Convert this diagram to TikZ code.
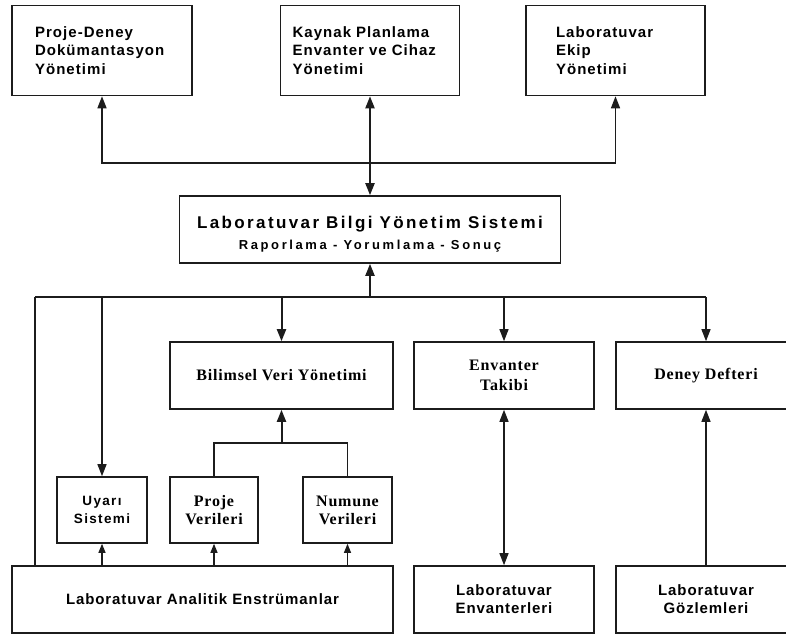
\documentclass[tikz,border=0pt]{standalone}
\usepackage{fontspec}
\usetikzlibrary{arrows.meta,calc}
\newfontfamily\boxsans[LetterSpace=7]{Liberation Sans}
\newfontfamily\titlesans[LetterSpace=14]{Liberation Sans}
\newfontfamily\subsans[LetterSpace=20]{Liberation Sans}
\newfontfamily\lowsans[LetterSpace=6]{Liberation Sans}
\newfontfamily\smallsans[LetterSpace=10]{Liberation Sans}
\newfontfamily\boxserif[LetterSpace=5]{Liberation Serif}
\definecolor{ink}{HTML}{1C1C1C}

\tikzset{
  box/.style={draw=ink, line width=1.6pt, fill=white, inner sep=0pt, text=black},
  topbox/.style={box, minimum height=90pt, inner ysep=0pt, align=left,
    font=\boxsans\bfseries\fontsize{15}{18.5}\selectfont},
  serifbox/.style={box, align=center, font=\boxserif\bfseries\fontsize{16}{19.5}\selectfont},
  sansbox/.style={box, align=center, font=\lowsans\bfseries\fontsize{15}{18}\selectfont},
  conn/.style={draw=ink, line width=1.5pt},
  thinconn/.style={draw=ink, line width=1.2pt},
  boldconn/.style={draw=ink, line width=2pt},
  tip/.style={-{Triangle[length=12pt,width=9pt]}},
  twotip/.style={{Triangle[length=12pt,width=9pt]}-{Triangle[length=12pt,width=9pt]}},
  smalltip/.style={-{Triangle[length=9pt,width=7pt]}},
}

\begin{document}
\begin{tikzpicture}[x=1pt, y=-1pt]
\clip (0,0) rectangle (786,635);
\fill[white] (0,0) rectangle (786,635);

% upper management boxes
\node[topbox, text width=134pt, inner xsep=23pt] (pd) at (102,50.5)
  {Proje-Deney\\Dokümantasyon\\Yönetimi};
\node[topbox, text width=155pt, inner xsep=12pt] (kp) at (370,50.5)
  {Kaynak Planlama\\Envanter ve Cihaz\\Yönetimi};
\node[topbox, text width=119pt, inner xsep=30pt] (le) at (615.5,50.5)
  {Laboratuvar\\Ekip\\Yönetimi};

% central system
\node[box, minimum width=381pt, minimum height=67pt, align=center,
  font=\fontsize{12}{21}\selectfont] (lb) at (370,229.5)
  {\rule{0pt}{22pt}{\titlesans\bfseries\fontsize{17}{21}\selectfont Laboratuvar Bilgi Yönetim Sistemi}\\
   {\subsans\bfseries\fontsize{13}{21}\selectfont Raporlama - Yorumlama - Sonuç}};

% middle row
\node[serifbox, minimum width=223pt, minimum height=67pt] (bv) at (281.5,375.5) {Bilimsel Veri Yönetimi};
\node[serifbox, minimum width=180pt, minimum height=67pt] (et) at (504,375.5) {Envanter\\Takibi};
\node[serifbox, minimum width=180pt, minimum height=67pt] (dd) at (706,375.5) {Deney Defteri};

% small data boxes
\node[sansbox, font=\smallsans\bfseries\fontsize{13.5}{18}\selectfont,
  minimum width=90pt, minimum height=66pt] (us) at (102,510) {Uyarı\\Sistemi};
\node[serifbox, font=\boxserif\bfseries\fontsize{16}{18}\selectfont,
  minimum width=88pt, minimum height=66pt] (pv) at (214,510) {Proje\\Verileri};
\node[serifbox, font=\boxserif\bfseries\fontsize{16}{18}\selectfont,
  minimum width=89pt, minimum height=66pt] (nv) at (347.5,510) {Numune\\Verileri};

% bottom row
\node[sansbox, minimum width=381pt, minimum height=67pt] (la) at (202.5,599.5) {Laboratuvar Analitik Enstrümanlar};
\node[sansbox, minimum width=180pt, minimum height=67pt] (len) at (504,599.5) {Laboratuvar\\Envanterleri};
\node[sansbox, minimum width=180pt, minimum height=67pt] (lg) at (706,599.5) {Laboratuvar\\Gözlemleri};

% connections to the upper boxes
\coordinate (tb) at (370,163);
\draw[boldconn, twotip] (lb) -- (kp);
\draw[conn, tip] (tb) -| (pd);
\draw[conn, tip] (tb) -| (le);

% distribution bus under the central system
\coordinate (bus) at (370,297);
\coordinate (busL) at (35,297);
\coordinate (busR) at (706,297);
\draw[conn] (busL) -- (busR);
\draw[boldconn, tip] (bus) -- (lb);
\draw[conn] (busL) -- (busL |- la.north);
\draw[thinconn, tip] (bus -| us) -- (us);
\draw[boldconn, tip] (bus -| bv) -- (bv);
\draw[thinconn, tip] (bus -| et) -- (et);
\draw[thinconn, tip] (bus -| dd) -- (dd);

% project and sample data feeding scientific data management
\coordinate (jn) at (281.5,443);
\draw[conn] (pv) |- (jn) -| (nv);
\draw[boldconn, tip] (jn) -- (bv);

% instruments feeding the small boxes
\draw[thinconn, smalltip] (la.north -| us) -- (us);
\draw[thinconn, smalltip] (la.north -| pv) -- (pv);
\draw[thinconn, smalltip] (la.north -| nv) -- (nv);

% inventory and observations
\draw[thinconn, twotip] (et) -- (len);
\draw[thinconn, tip] (lg) -- (dd);
\end{tikzpicture}
\end{document}
